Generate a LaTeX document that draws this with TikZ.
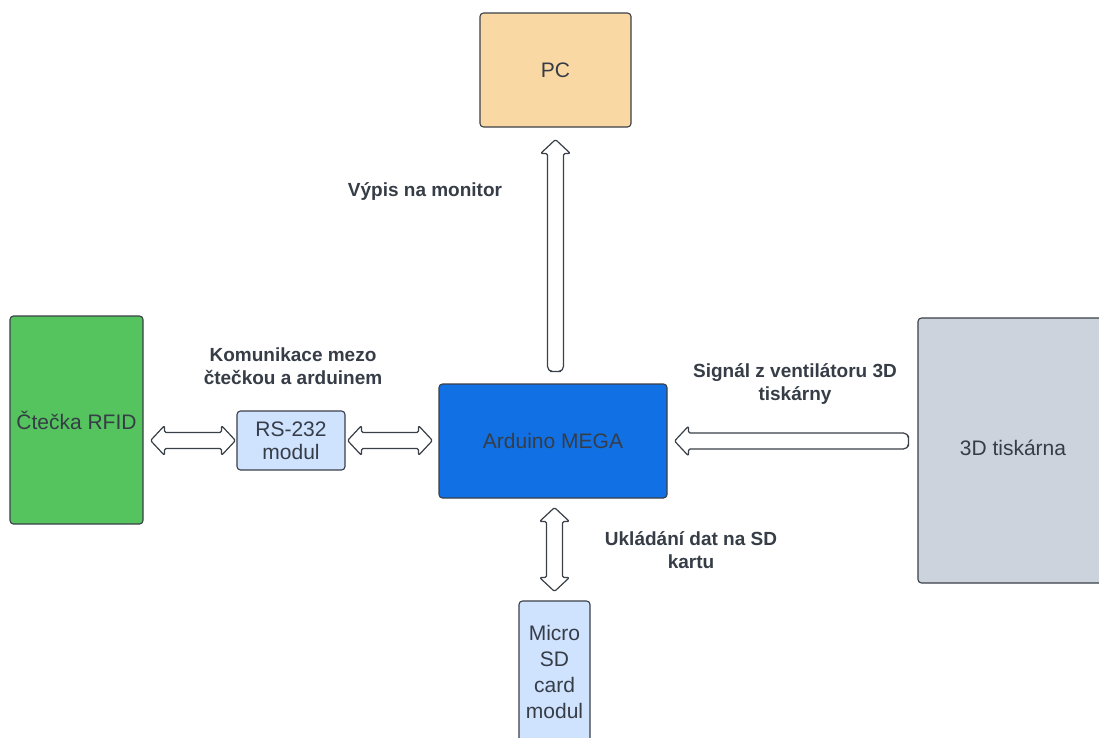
\documentclass[tikz,border=0pt]{standalone}
\usepackage{fontspec}
\setmainfont{Liberation Sans}
\usetikzlibrary{calc}
\definecolor{edgec}{HTML}{3A4048}
\definecolor{txtc}{HTML}{363D47}
\definecolor{pcfill}{HTML}{FAD8A3}
\definecolor{rfidfill}{HTML}{55C35E}
\definecolor{modfill}{HTML}{CFE2FE}
\definecolor{ardfill}{HTML}{1170E3}
\definecolor{prnfill}{HTML}{CDD3DC}
\newcommand\blockarr[3]{% #1 from, #2 to, #3: 1 single (tip at #2), 2 double
  \pgfpointdiff{\pgfpointanchor{#1}{center}}{\pgfpointanchor{#2}{center}}%
  \pgfgetlastxy{\ddx}{\ddy}%
  \pgfmathsetmacro\arrlen{veclen(\ddx,\ddy)}%
  \pgfmathsetmacro\arrang{atan2(\ddy,\ddx)}%
  \pgfmathsetmacro\arrtip{\arrlen-14}%
  \begin{scope}[shift={(#1)}, rotate=\arrang]
    \ifnum#3=2
      \draw[blockarrow] (0,0) -- (14,15) -- (14,8) -- (\arrtip,8) -- (\arrtip,15) -- (\arrlen,0) -- (\arrtip,-15) -- (\arrtip,-8) -- (14,-8) -- (14,-15) -- cycle;
    \else
      \draw[blockarrow] (0,0) [rounded corners=5pt] -- (0,8) -- (10,8) [rounded corners=1.5pt] -- (\arrtip,8) -- (\arrtip,15) -- (\arrlen,0) -- (\arrtip,-15) -- (\arrtip,-8) -- (10,-8) [rounded corners=5pt] -- (0,-8) -- cycle;
    \fi
  \end{scope}}
\begin{document}
\begin{tikzpicture}[x=1pt,y=-1pt,
  box/.style={draw=edgec, line width=1.1pt, rounded corners=3.5pt, inner sep=0pt, align=center, text=txtc, font=\fontsize{21}{23}\selectfont},
  lbl/.style={align=center, text=txtc, font=\bfseries\fontsize{19}{23}\selectfont},
  blockarrow/.style={draw=edgec, fill=white, line width=1.2pt, rounded corners=1.5pt, line join=round}]
\useasboundingbox (0,0) rectangle (1099,737);
\clip (0,0) rectangle (1099,737);
\fill[white] (0,0) rectangle (1099,737);
% boxes
\node[box, fill=pcfill, minimum width=151pt, minimum height=114pt] (pc) at (555.5,70) {PC};
\node[box, fill=rfidfill, minimum width=133pt, minimum height=208pt] (rfid) at (76.5,420) {Čtečka RFID};
\node[box, fill=modfill, minimum width=108pt, minimum height=59pt] (rs) at (291,440.5) {RS-232\\modul};
\node[box, fill=ardfill, minimum width=228pt, minimum height=114pt] (ard) at (553,441) {Arduino MEGA};
\node[box, fill=prnfill, minimum width=190pt, minimum height=265pt] (prn) at (1013,450.5) {\raisebox{5pt}{3D tiskárna}};
\node[box, fill=modfill, minimum width=71pt, minimum height=142pt, font=\fontsize{21}{26}\selectfont] (sd) at (554.5,672) {Micro\\SD\\card\\modul};
% labels
\node[lbl] (l1) at (425,191) {Výpis na monitor};
\node[lbl] (l2) at (293,366) {Komunikace mezo\\čtečkou a arduinem};
\node[lbl] (l3) at (795,384) {Signál z ventilátoru 3D\\tiskárny};
\node[lbl] (l4) at (691,550) {Ukládání dat na SD\\kartu};
% arrow end points
\coordinate (a1s) at ($(rfid.east |- rs.west)+(7,0)$);
\coordinate (a1e) at ($(rs.west)+(-1,0)$);
\coordinate (a2s) at ($(rs.east)+(2,0)$);
\coordinate (a2e) at ($(ard.west |- rs.east)+(-6,0)$);
\coordinate (a3s) at ($(prn.west |- ard.east)+(-9,0)$);
\coordinate (a3e) at ($(ard.east)+(7,0)$);
\coordinate (a4s) at ($(ard.north -| pc.south)+(0,-12)$);
\coordinate (a4e) at ($(pc.south)+(0,12)$);
\coordinate (a5s) at ($(ard.south -| sd.north)+(0,9)$);
\coordinate (a5e) at ($(sd.north)+(0,-9)$);
% arrows
\blockarr{a1s}{a1e}{2}
\blockarr{a2s}{a2e}{2}
\blockarr{a3s}{a3e}{1}
\blockarr{a4s}{a4e}{1}
\blockarr{a5s}{a5e}{2}
\end{tikzpicture}
\end{document}
